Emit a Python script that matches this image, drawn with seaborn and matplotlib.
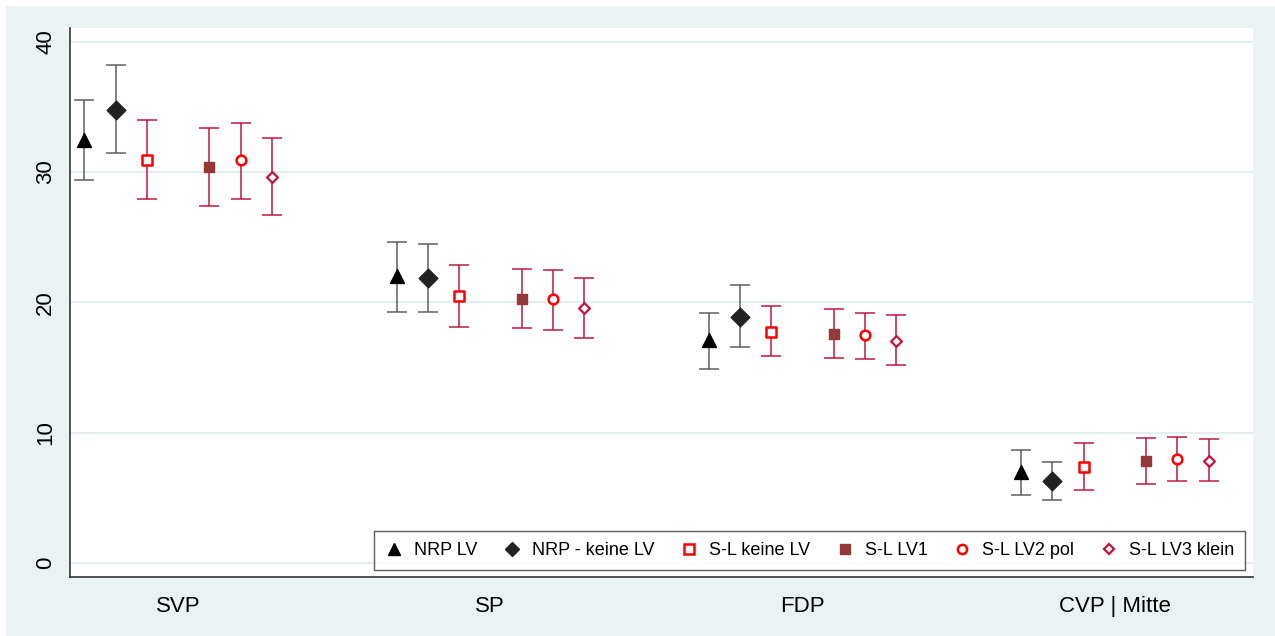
import numpy as np
import pandas as pd
import matplotlib
matplotlib.use('Agg')
import matplotlib.pyplot as plt
import seaborn as sns

# categories and series
parties = ['SVP', 'SP', 'FDP', 'CVP | Mitte']
series = ['NRP LV', 'NRP - keine LV', 'S-L keine LV', 'S-L LV1', 'S-L LV2 pol', 'S-L LV3 klein']

# point estimates per series (SVP, SP, FDP, CVP | Mitte)
nrp_lv = [32.5, 22.0, 17.1, 7.0]
nrp_keine = [34.8, 21.9, 18.9, 6.3]
sl_keine = [30.9, 20.5, 17.75, 7.4]
sl_lv1 = [30.4, 20.3, 17.6, 7.85]
sl_lv2 = [30.9, 20.3, 17.5, 8.0]
sl_lv3 = [29.65, 19.6, 17.05, 7.85]

# confidence interval bounds
nrp_lv_lo = [29.4, 19.3, 14.9, 5.2]
nrp_lv_hi = [35.5, 24.6, 19.2, 8.7]
nrp_keine_lo = [31.5, 19.3, 16.6, 4.8]
nrp_keine_hi = [38.2, 24.5, 21.3, 7.75]
sl_keine_lo = [27.9, 18.1, 15.85, 5.6]
sl_keine_hi = [34.0, 22.85, 19.7, 9.2]
sl_lv1_lo = [27.4, 18.0, 15.7, 6.1]
sl_lv1_hi = [33.4, 22.6, 19.5, 9.6]
sl_lv2_lo = [27.95, 17.9, 15.65, 6.3]
sl_lv2_hi = [33.8, 22.5, 19.2, 9.7]
sl_lv3_lo = [26.7, 17.3, 15.2, 6.3]
sl_lv3_hi = [32.6, 21.9, 19.0, 9.5]

yticks = [0, 10, 20, 30, 40]

est = [nrp_lv, nrp_keine, sl_keine, sl_lv1, sl_lv2, sl_lv3]
lows = [nrp_lv_lo, nrp_keine_lo, sl_keine_lo, sl_lv1_lo, sl_lv2_lo, sl_lv3_lo]
highs = [nrp_lv_hi, nrp_keine_hi, sl_keine_hi, sl_lv1_hi, sl_lv2_hi, sl_lv3_hi]

rows = []
for s, (name, e, lo, hi) in enumerate(zip(series, est, lows, highs)):
    for p, party in enumerate(parties):
        rows.append({'party': party, 'series': name, 'pos': p,
                     'est': e[p], 'lo': lo[p], 'hi': hi[p]})
df = pd.DataFrame(rows)

# offsets of the series around each category (gap in the middle)
offsets = {name: o for name, o in zip(series, [-0.3, -0.2, -0.1, 0.1, 0.2, 0.3])}
df['x'] = df['pos'] + df['series'].map(offsets)

# marker styles
styles = {
    'NRP LV':         dict(marker='^', mfc='black', mec='black', ms=10, mew=1, ecol='#555555'),
    'NRP - keine LV': dict(marker='D', mfc='#222222', mec='#222222', ms=9.5, mew=1, ecol='#555555'),
    'S-L keine LV':   dict(marker='s', mfc='white', mec='#FF0000', ms=7, mew=1.8, ecol='#C00A35'),
    'S-L LV1':        dict(marker='s', mfc='#943838', mec='#943838', ms=7.5, mew=1, ecol='#C00A35'),
    'S-L LV2 pol':    dict(marker='o', mfc='white', mec='#FF0000', ms=7, mew=1.8, ecol='#C00A35'),
    'S-L LV3 klein':  dict(marker='D', mfc='white', mec='#C8103A', ms=5.5, mew=1.6, ecol='#C00A35'),
}

sns.set_style('white')
plt.rcParams['font.family'] = ['Liberation Sans', 'DejaVu Sans']

bg = '#EAF2F3'
fig = plt.figure(figsize=(12.75, 6.36), dpi=100, facecolor=bg)
ax = fig.add_axes([0.0549, 0.0932, 0.9278, 0.8628])
ax.set_facecolor('white')

# white strip at the top and left of the image
fig.patches.append(plt.Rectangle((0, 1 - 5 / 636), 1, 5 / 636, transform=fig.transFigure,
                                 color='white', zorder=-1))
fig.patches.append(plt.Rectangle((0, 0), 5 / 1275, 1, transform=fig.transFigure,
                                 color='white', zorder=-1))

for y in yticks:
    ax.axhline(y, color='#E4EDEF', lw=1.6, zorder=0)

for name in series:
    sub = df[df['series'] == name]
    st = styles[name]
    ax.errorbar(sub['x'], sub['est'],
                yerr=[sub['est'] - sub['lo'], sub['hi'] - sub['est']],
                fmt='none', ecolor=st['ecol'], elinewidth=1.3, capsize=7, capthick=1.3,
                alpha=0.8, zorder=2)
    sns.scatterplot(x=sub['x'], y=sub['est'], ax=ax, marker=st['marker'],
                    facecolor=st['mfc'], edgecolor=st['mec'], s=st['ms'] ** 2,
                    linewidth=st['mew'], zorder=3, legend=False)

ax.set_xlim(-0.346, 3.442)
ax.set_ylim(-1.05, 41.06)
ax.set_xticks(range(len(parties)))
ax.set_xticklabels(parties)
ax.set_yticks(yticks)
ax.set_yticklabels([str(t) for t in yticks], rotation=90, va='center')
ax.tick_params(axis='both', labelsize=16, length=7, width=1, color='#333333',
               labelcolor='black', pad=7)
ax.tick_params(axis='y', pad=3)

for side in ['top', 'right']:
    ax.spines[side].set_visible(False)
for side in ['left', 'bottom']:
    ax.spines[side].set_color('#333333')
    ax.spines[side].set_linewidth(1.2)

ax.set_xlabel('')
ax.set_ylabel('')

leg_handles = []
for name in series:
    st = styles[name]
    scale = 0.8 if name.startswith('NRP') else 0.95
    leg_handles.append(plt.Line2D([], [], linestyle='none', marker=st['marker'],
                                  markerfacecolor=st['mfc'], markeredgecolor=st['mec'],
                                  markersize=st['ms'] * scale, markeredgewidth=st['mew']))

leg = ax.legend(leg_handles, series, loc='lower right', bbox_to_anchor=(0.993, 0.012),
                borderaxespad=0, ncol=6, fontsize=13, frameon=True, fancybox=False,
                edgecolor='#333333', handlelength=1.0, handletextpad=0.6,
                columnspacing=1.42, borderpad=0.6)
leg.get_frame().set_linewidth(1.0)
for t in leg.get_texts():
    t.set_color('black')

fig.savefig('out.png', dpi=100, facecolor=fig.get_facecolor())
